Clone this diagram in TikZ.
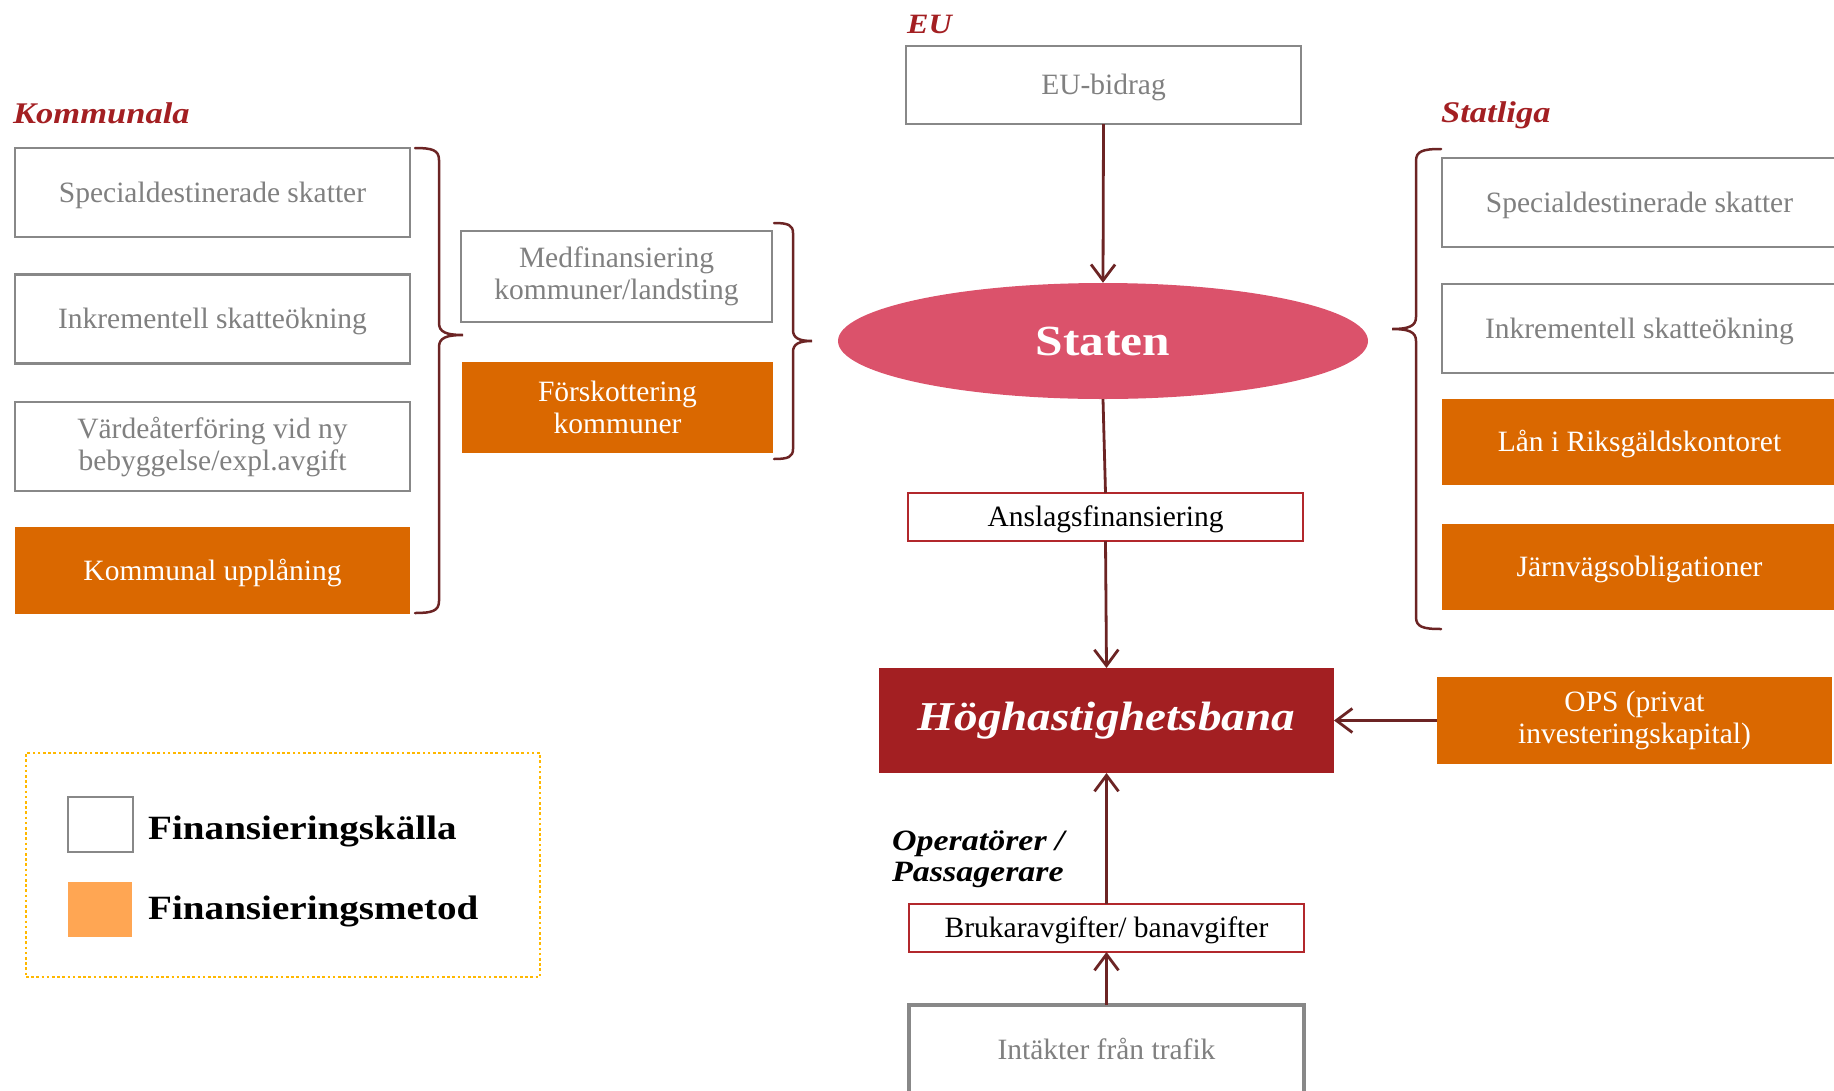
\documentclass[tikz,border=0pt]{standalone}
\usepackage{fontspec}
\setmainfont{Liberation Serif}
\newfontfamily\bfam{Liberation Serif}[FakeStretch=1.15]
\usetikzlibrary{arrows.meta,shapes.geometric}
\definecolor{gborder}{RGB}{136,136,136}
\definecolor{gtext}{RGB}{128,128,128}
\definecolor{orng}{RGB}{218,104,0}
\definecolor{lorng}{RGB}{255,166,83}
\definecolor{pinkred}{RGB}{219,82,107}
\definecolor{hogred}{RGB}{163,31,34}
\definecolor{lblred}{RGB}{163,31,34}
\definecolor{maroon}{RGB}{108,36,36}
\definecolor{rborder}{RGB}{178,40,44}
\definecolor{gold}{RGB}{255,184,0}
\begin{document}
\begin{tikzpicture}[x=1pt,y=-1pt,
  base/.style={inner sep=0pt, outer sep=0pt, align=center, font=\fontsize{29.5}{32}\selectfont},
  src/.style={base, draw=gborder, line width=2.5pt, fill=white, text=gtext, minimum width=395pt, minimum height=89pt},
  meth/.style={base, fill=orng, text=white, minimum width=395pt, minimum height=86pt},
  one/.style={text height=21pt, text depth=2pt},
  flow/.style={base, one, draw=rborder, line width=2pt, fill=white, text=black, minimum width=395pt, minimum height=48pt},
  conn/.style={draw=maroon, line width=2.8pt, -{Straight Barb[length=16pt,width=24pt,line width=2.8pt]}},
  link/.style={draw=maroon, line width=2.8pt},
  brace/.style={draw=maroon, line width=2.5pt, line cap=round},
  hdr/.style={inner sep=0pt, anchor=base west, text=lblred, font=\bfam\bfseries\itshape\fontsize{30}{32}\selectfont},
  legtxt/.style={inner sep=0pt, anchor=base west, text=black, font=\bfam\bfseries\fontsize{34}{36}\selectfont}
]
\useasboundingbox (0,0) rectangle (1834,1090);

% headers
\node[hdr] (hkom) at (13,123) {Kommunala};
\node[hdr, font=\bfam\bfseries\itshape\fontsize{28}{30}\selectfont] (heu) at (907,33) {EU};
\node[hdr] (hstat) at (1441,122) {Statliga};

% left column
\node[src, one] (k1) at (212.5,192.5) {Specialdestinerade skatter};
\node[src, one] (k2) at (212.5,319) {Inkrementell skatteökning};
\node[src] (k3) at (212.5,446.5) {Värdeåterföring vid ny\\bebyggelse/expl.avgift};
\node[meth, one, minimum height=87pt] (k4) at (212.5,570.5) {Kommunal upplåning};

% middle column
\node[src, minimum width=311pt, minimum height=91pt] (med) at (616.5,276.5) {Medfinansiering\\kommuner/landsting};
\node[meth, minimum width=311pt, minimum height=91pt] (forsk) at (617.5,407.5) {Förskottering\\kommuner};

% right column
\node[src, one] (s1) at (1639.5,202.5) {Specialdestinerade skatter};
\node[src, one] (s2) at (1639.5,328.5) {Inkrementell skatteökning};
\node[meth, one] (s3) at (1639.5,442) {Lån i Riksgäldskontoret};
\node[meth, one] (s4) at (1639.5,566.5) {Järnvägsobligationer};
\node[meth, minimum height=87pt] (ops) at (1634.5,720.5) {OPS (privat\\investeringskapital)};

% centre
\node[src, one, minimum height=78pt] (eu) at (1103.5,85) {EU-bidrag};
\node[ellipse, fill=pinkred, minimum width=530pt, minimum height=116pt, inner sep=0pt, text=white, font=\bfam\bfseries\fontsize{43}{45}\selectfont] (staten) at (1103,341) {Staten};
\node[flow] (ansl) at (1105.5,517) {Anslagsfinansiering};
\node[base, fill=hogred, minimum width=455pt, minimum height=105pt, text=white, font=\bfam\bfseries\itshape\fontsize{41}{44}\selectfont] (hog) at (1106.5,720.5) {Höghastighetsbana};
\node[inner sep=0pt, anchor=north west, align=left, text=black, font=\bfam\bfseries\itshape\fontsize{29.5}{31}\selectfont] (oper) at (892,831) {Operatörer /\\Passagerare};
\node[flow] (bruk) at (1106.5,928) {Brukaravgifter/ banavgifter};
\node[src, one, line width=4.5pt, minimum height=90pt] (intakt) at (1106.5,1050) {Intäkter från trafik};

% connectors
\draw[conn] (eu.south) -- (staten.north);
\draw[link] (staten.south) -- (ansl.north);
\draw[conn] (ansl.south) -- (hog.north);
\draw[conn] (bruk.north) -- (hog.south);
\draw[conn] (intakt.north) -- (bruk.south);
\draw[conn] (ops.west) -- (hog.east);

% braces
\draw[brace] (415,148) .. controls (432,148) and (439,150) .. (439,160) -- (439,323)
  .. controls (439,332) and (446,335) .. (463,335)
  .. controls (446,335) and (439,338) .. (439,347) -- (439,601)
  .. controls (439,611) and (432,613) .. (415,613);
\draw[brace] (774,223) .. controls (788,223) and (793,225) .. (793,233) -- (793,330)
  .. controls (793,338) and (799,341) .. (812,341)
  .. controls (799,341) and (793,344) .. (793,352) -- (793,449)
  .. controls (793,457) and (788,459) .. (774,459);
\draw[brace] (1441,149) .. controls (1423,149) and (1416,151) .. (1416,161) -- (1416,317)
  .. controls (1416,326) and (1409,329) .. (1392,329)
  .. controls (1409,329) and (1416,332) .. (1416,341) -- (1416,617)
  .. controls (1416,627) and (1423,629) .. (1441,629);

% legend
\node[draw=gold, line width=2.8pt, dash pattern=on 2.6pt off 2.6pt, minimum width=514pt, minimum height=224pt, inner sep=0pt] (legend) at (283,865) {};
\node[draw=gborder, line width=2.5pt, fill=white, minimum width=65pt, minimum height=55pt, inner sep=0pt] (lsq1) at (100.5,824.5) {};
\node[fill=lorng, minimum width=64pt, minimum height=55pt, inner sep=0pt] (lsq2) at (100,909.5) {};
\node[legtxt] (ltx1) at (148,839) {Finansieringskälla};
\node[legtxt] (ltx2) at (148,919) {Finansieringsmetod};
\end{tikzpicture}
\end{document}
